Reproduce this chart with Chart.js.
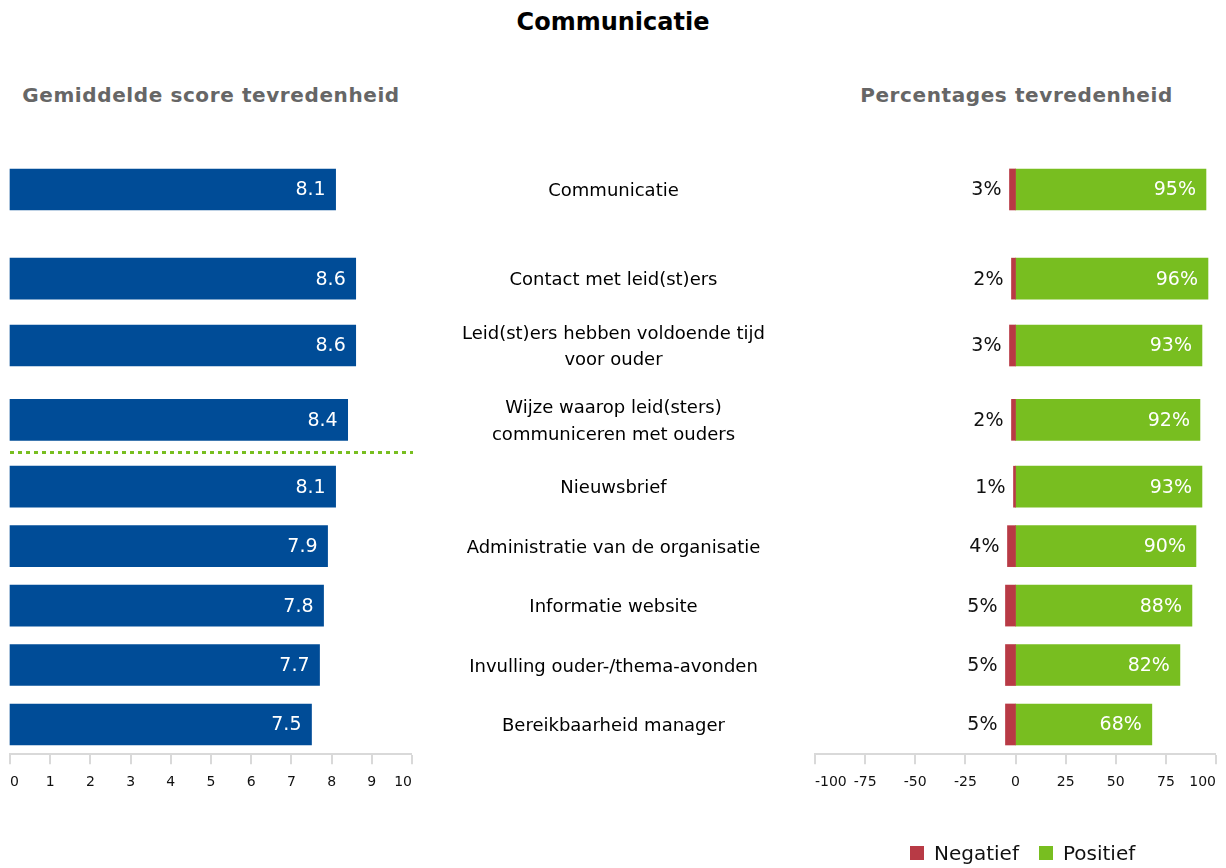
<!DOCTYPE html>
<html lang="nl">
<head>
<meta charset="utf-8">
<title>Communicatie</title>
<script src="https://cdn.jsdelivr.net/npm/chart.js@4.4.1/dist/chart.umd.min.js"></script>
<style>
  html, body { margin: 0; padding: 0; background: #fff; overflow: hidden; }
  body { font-family: "DejaVu Sans", sans-serif; }
  #page { position: relative; width: 1226px; height: 868px; }
  #page canvas { position: absolute; left: 0; top: 0; }
  .title { position: absolute; left: 0; top: 8px; width: 1226px; text-align: center;
           font-weight: bold; font-size: 24px; line-height: 28px; color: #000; }
  .head { position: absolute; top: 84px; font-weight: bold; font-size: 20px; line-height: 22px;
          letter-spacing: 0.6px; color: #666; text-align: center; white-space: nowrap; }
  #headScore { left: 10px; width: 402px; }
  #headPct { left: 815px; width: 403px; }
  #legend { position: absolute; left: 910px; top: 841px; display: flex; align-items: center;
            font-size: 20px; line-height: 24px; color: #111; }
  #legend .item { display: flex; align-items: center; margin-right: 20px; }
  #legend .box { width: 14px; height: 14px; margin-right: 10px; }
</style>
</head>
<body>
<div id="page">
  <div class="title">Communicatie</div>
  <div class="head" id="headScore">Gemiddelde score tevredenheid</div>
  <div class="head" id="headPct">Percentages tevredenheid</div>
  <canvas id="scoreChart" width="1226" height="868"></canvas>
  <canvas id="pctChart" width="1226" height="868"></canvas>
  <div id="legend"></div>
</div>
<script>
// ---- data ----
const categories = [
  'Communicatie',
  'Contact met leid(st)ers',
  ['Leid(st)ers hebben voldoende tijd', 'voor ouder'],
  ['Wijze waarop leid(sters)', 'communiceren met ouders'],
  'Nieuwsbrief',
  'Administratie van de organisatie',
  'Informatie website',
  'Invulling ouder-/thema-avonden',
  'Bereikbaarheid manager'
];
const meanScores  = [8.1, 8.6, 8.6, 8.4, 8.1, 7.9, 7.8, 7.7, 7.5];
const pctNegative = [3, 2, 3, 2, 1, 4, 5, 5, 5];
const pctPositive = [95, 96, 93, 92, 93, 90, 88, 82, 68];
const scoreTicks  = [0, 1, 2, 3, 4, 5, 6, 7, 8, 9, 10];
const pctTicks    = [-100, -75, -50, -25, 0, 25, 50, 75, 100];

// ---- layout ----
// Rows sit on a fine grid of slots so the row spacing can vary.
const LEAD_SLOTS = 2;
const ROW_GAPS = [12, 9, 10, 9, 8, 8, 8, 8];
const TAIL_SLOTS = 4;
const DIVIDER_AFTER = 3;          // dotted separator below the 4th row
const AREA_TOP = 174.6;
const AREA_BOTTOM = 754.2;
const X_AXIS_HEIGHT = 40;
const PAGE_W = 1226, PAGE_H = 868;
const LABEL_AXIS_LEFT = 412;
const LABEL_AXIS_WIDTH = 403;

const BLUE = '#004c97', GREEN = '#78be20', RED = '#b83a45', GRID = '#d9d9d9';
const FONT = '"DejaVu Sans", sans-serif';

const slotIndex = [];
let s = LEAD_SLOTS;
categories.forEach((c, i) => { slotIndex.push(s); s += ROW_GAPS[i] || 0; });
const slotCount = s + 1 + TAIL_SLOTS;
const slotLabels = Array.from({ length: slotCount }, () => '');
categories.forEach((c, i) => { slotLabels[slotIndex[i]] = c; });
const spread = vals => {
  const out = Array.from({ length: slotCount }, () => null);
  vals.forEach((v, i) => { out[slotIndex[i]] = v; });
  return out;
};

// Category text is centred in the gap between the two plots.
const measure = document.createElement('canvas').getContext('2d');
measure.font = '18px ' + FONT;
const widestLabel = Math.max(...categories.flat().map(t => measure.measureText(t).width));
const labelPad = (LABEL_AXIS_WIDTH - widestLabel) / 2;

// ---- plugins ----
const valueLabels = {
  id: 'valueLabels',
  afterDatasetsDraw(chart) {
    const ctx = chart.ctx;
    ctx.save();
    ctx.font = '19px ' + FONT;
    ctx.textBaseline = 'middle';
    chart.data.datasets.forEach((ds, di) => {
      const cfg = ds.valueLabel;
      if (!cfg) return;
      const meta = chart.getDatasetMeta(di);
      meta.data.forEach((bar, i) => {
        const v = ds.data[i];
        if (v === null || v === undefined) return;
        const text = cfg.format(v);
        ctx.fillStyle = cfg.color;
        ctx.textAlign = 'right';
        const end = Math.max(bar.x, bar.base);
        const start = Math.min(bar.x, bar.base);
        const x = cfg.inside ? end - 10 : start - 8;
        ctx.fillText(text, x, bar.y + 1);
      });
    });
    ctx.restore();
  }
};

const divider = {
  id: 'divider',
  afterDatasetsDraw(chart, args, opts) {
    const y = chart.scales.y;
    const a = y.getPixelForValue(slotIndex[opts.after]);
    const b = y.getPixelForValue(slotIndex[opts.after + 1]);
    const py = Math.round((a + b) / 2) - 0.5;
    const ctx = chart.ctx;
    ctx.save();
    ctx.strokeStyle = opts.color;
    ctx.lineWidth = 3;
    ctx.setLineDash([4, 4]);
    ctx.beginPath();
    ctx.moveTo(chart.chartArea.left, py);
    ctx.lineTo(chart.chartArea.right + 1, py);
    ctx.stroke();
    ctx.restore();
  }
};

// Grid lines are not drawn in the plot, so lineWidth is 0 (bars then start
// exactly at zero); the short tick marks below the axis keep their width.
const valueAxis = (min, max, tickValues) => ({
  type: 'linear',
  min, max,
  afterBuildTicks: sc => { sc.ticks = tickValues.map(v => ({ value: v })); },
  afterFit: sc => { sc.height = X_AXIS_HEIGHT; },
  grid: { drawOnChartArea: false, drawTicks: true, tickLength: 10, color: GRID, lineWidth: 0, tickWidth: 2, tickColor: GRID },
  border: { color: GRID, width: 2 },
  ticks: { align: 'inner', padding: 10, color: '#111', font: { family: FONT, size: 14 } }
});

const padV = { top: AREA_TOP, bottom: PAGE_H - AREA_BOTTOM - X_AXIS_HEIGHT };
const barStyle = { barThickness: 41, clip: false };

// ---- left: mean scores ----
new Chart(document.getElementById('scoreChart'), {
  type: 'bar',
  data: {
    labels: slotLabels,
    datasets: [Object.assign({
      label: 'Gemiddelde score tevredenheid',
      data: spread(meanScores),
      backgroundColor: BLUE,
      valueLabel: { inside: true, color: '#fff', format: v => v.toFixed(1) }
    }, barStyle)]
  },
  options: {
    indexAxis: 'y',
    responsive: false,
    animation: false,
    events: [],
    layout: { padding: { left: 10, right: PAGE_W - 412, top: padV.top, bottom: padV.bottom } },
    plugins: {
      legend: { display: false },
      tooltip: { enabled: false },
      divider: { after: DIVIDER_AFTER, color: GREEN }
    },
    scales: {
      y: { type: 'category', display: false, offset: false },
      x: valueAxis(0, 10, scoreTicks)
    }
  },
  plugins: [valueLabels, divider]
});

// ---- right: negative / positive percentages ----
const pctChart = new Chart(document.getElementById('pctChart'), {
  type: 'bar',
  data: {
    labels: slotLabels,
    datasets: [Object.assign({
      label: 'Negatief',
      data: spread(pctNegative.map(v => -v)),
      backgroundColor: RED,
      valueLabel: { inside: false, color: '#111', format: v => Math.abs(v) + '%' }
    }, barStyle), Object.assign({
      label: 'Positief',
      data: spread(pctPositive),
      backgroundColor: GREEN,
      valueLabel: { inside: true, color: '#fff', format: v => v + '%' }
    }, barStyle)]
  },
  options: {
    indexAxis: 'y',
    responsive: false,
    animation: false,
    events: [],
    layout: { padding: { left: LABEL_AXIS_LEFT, right: 9, top: padV.top, bottom: padV.bottom } },
    plugins: { legend: { display: false }, tooltip: { enabled: false } },
    scales: {
      y: {
        type: 'category',
        position: 'left',
        offset: false,
        stacked: true,
        afterFit: sc => { sc.width = LABEL_AXIS_WIDTH; },
        grid: { display: false, drawTicks: false },
        border: { display: false },
        ticks: {
          autoSkip: false,
          crossAlign: 'center',
          padding: labelPad,
          labelOffset: 2,
          color: '#000',
          font: { family: FONT, size: 18, lineHeight: 1.45 }
        }
      },
      x: Object.assign(valueAxis(-100, 100, pctTicks), { stacked: true })
    }
  },
  plugins: [valueLabels]
});

// ---- legend ----
const legend = document.getElementById('legend');
pctChart.data.datasets.forEach(ds => {
  const item = document.createElement('div');
  item.className = 'item';
  const box = document.createElement('span');
  box.className = 'box';
  box.style.background = ds.backgroundColor;
  const txt = document.createElement('span');
  txt.textContent = ds.label;
  item.appendChild(box);
  item.appendChild(txt);
  legend.appendChild(item);
});
</script>
</body>
</html>
